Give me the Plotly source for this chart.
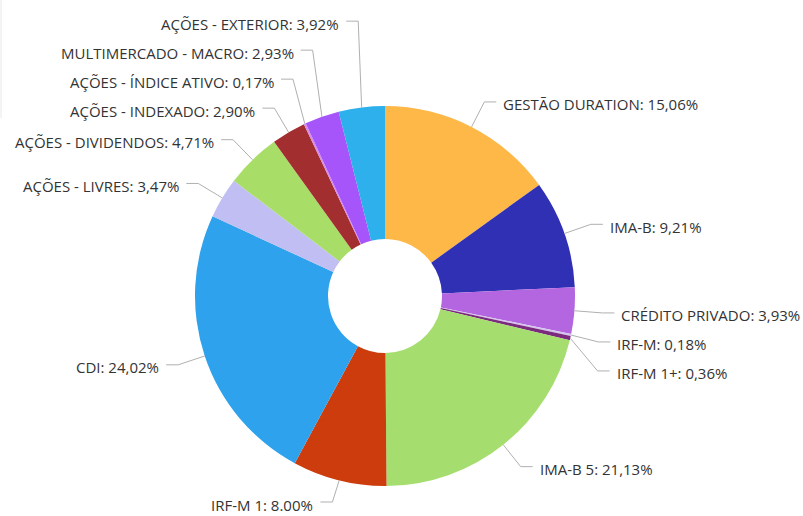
import math
import plotly.graph_objects as go

# ---- data ----
labels = ["GESTÃO DURATION", "IMA-B", "CRÉDITO PRIVADO", "IRF-M", "IRF-M 1+",
          "IMA-B 5", "IRF-M 1", "CDI", "AÇÕES - LIVRES", "AÇÕES - DIVIDENDOS",
          "AÇÕES - INDEXADO", "AÇÕES - ÍNDICE ATIVO", "MULTIMERCADO - MACRO",
          "AÇÕES - EXTERIOR"]
values = [15.06, 9.21, 3.93, 0.18, 0.36, 21.13, 8.00, 24.02, 3.47, 4.71,
          2.90, 0.17, 2.93, 3.92]
value_text = ["15,06%", "9,21%", "3,93%", "0,18%", "0,36%", "21,13%", "8.00%",
              "24,02%", "3,47%", "4,71%", "2,90%", "0,17%", "2,93%", "3,92%"]
colors = ["#FDB848", "#3030B4", "#B466E0", "#D4C4EE", "#7B2A7E", "#A5DE6E",
          "#CC3C0C", "#2EA2EC", "#C0BEF2", "#A8DE68", "#A22E30", "#D98BE6",
          "#A555FA", "#2DB0EC"]

# ---- layout constants ----
W, H = 803, 516
CX, CY, R = 385, 296, 190
HOLE = 0.3
DIST = 28          # label distance from pie edge
SPACING = 29       # min vertical gap between labels
TEXT_OFF = 17      # text offset from natural label x
TEXT_DY = 2.5
Y_MAX = H - 14
FONT = dict(family="Open Sans", size=15, color="#333333")
LINE_COLOR = "#B0B0B0"


def px(x):
    return x / W


def py(y):
    return 1 - y / H


fig = go.Figure()
fig.add_trace(go.Pie(
    values=values, labels=labels, sort=False, direction="clockwise",
    rotation=0, hole=HOLE, textinfo="none", showlegend=False,
    marker=dict(colors=colors, line=dict(width=0)),
    domain=dict(x=[px(CX - R), px(CX + R)], y=[py(CY + R), py(CY - R)]),
))

# ---- compute label positions from slice angles ----
total = sum(values)
cum = 0.0
items = []
for i, v in enumerate(values):
    mid = (cum + v / 2) / total * 2 * math.pi
    cum += v
    s, c = math.sin(mid), math.cos(mid)
    items.append(dict(
        i=i, left=s < 0,
        ex=CX + R * s, ey=CY - R * c,
        nx=CX + (R + DIST) * s, ny=CY - (R + DIST) * c,
    ))

for side in (True, False):
    grp = [it for it in items if it["left"] == side]
    upper = sorted([it for it in grp if it["ny"] < CY], key=lambda t: -t["ny"])
    lower = sorted([it for it in grp if it["ny"] >= CY], key=lambda t: t["ny"])
    prev = None
    for it in upper:
        y = it["ny"] if prev is None else min(it["ny"], prev - SPACING)
        it["y"] = y
        prev = y
    prev = None
    for it in lower:
        y = it["ny"] if prev is None else max(it["ny"], prev + SPACING)
        it["y"] = min(y, Y_MAX)
        prev = y

shapes = [dict(type="line", xref="paper", yref="paper",
               x0=px(1), y0=py(0), x1=px(1), y1=py(118),
               line=dict(color="#E8E8E8", width=1))]
annotations = []
for it in items:
    sgn = -1 if it["left"] else 1
    tx = it["nx"] + sgn * TEXT_OFF
    y = it["y"]
    pts = [(it["ex"], it["ey"]), (it["nx"], y), (tx - sgn * 5, y)]
    for (x0, y0), (x1, y1) in zip(pts[:-1], pts[1:]):
        shapes.append(dict(type="line", xref="paper", yref="paper",
                           x0=px(x0), y0=py(y0), x1=px(x1), y1=py(y1),
                           line=dict(color=LINE_COLOR, width=1)))
    annotations.append(dict(
        xref="paper", yref="paper", x=px(tx), y=py(y + TEXT_DY),
        xanchor="right" if it["left"] else "left", yanchor="middle",
        text=f"{labels[it['i']]}: {value_text[it['i']]}",
        showarrow=False, font=FONT,
    ))

fig.update_layout(
    width=W, height=H, margin=dict(l=0, r=0, t=0, b=0),
    paper_bgcolor="white", plot_bgcolor="white",
    shapes=shapes, annotations=annotations,
)
fig.write_html("out.html")
